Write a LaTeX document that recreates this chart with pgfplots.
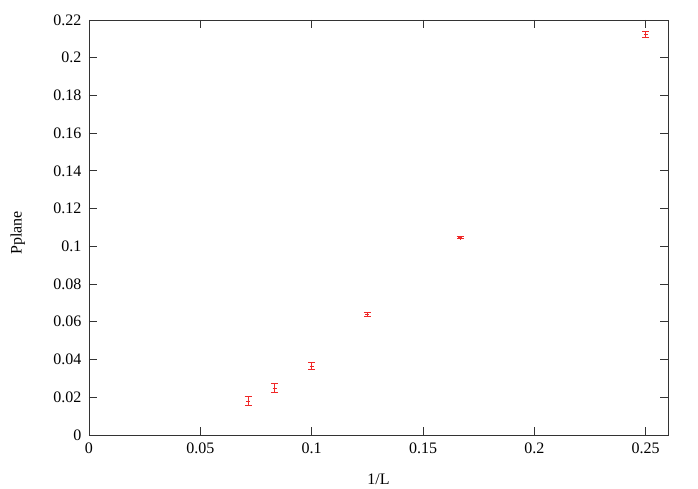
\documentclass[border=0pt]{standalone}
\usepackage{fontspec}
\setmainfont{Liberation Serif}
\usepackage{pgfplots}
\pgfplotsset{compat=1.18}

\definecolor{gpred}{RGB}{240,40,40}

\begin{document}
\begin{tikzpicture}[x=1pt,y=1pt]
\begin{axis}[
    scale only axis,
    width=579pt,
    height=415pt,
    tick label style={font=\fontsize{16}{18}\selectfont},
    label style={font=\fontsize{16}{18}\selectfont},
    xmin=0, xmax=0.26,
    ymin=0, ymax=0.22,
    xtick={0,0.05,0.1,0.15,0.2,0.25},
    ytick={0,0.02,0.04,0.06,0.08,0.1,0.12,0.14,0.16,0.18,0.2,0.22},
    xticklabels={0,0.05,0.1,0.15,0.2,0.25},
    yticklabels={0,0.02,0.04,0.06,0.08,0.1,0.12,0.14,0.16,0.18,0.2,0.22},
    tick align=inside,
    major tick length=8pt,
    axis line style={black!80, line width=0.8pt},
    every tick/.style={black!80, line width=0.8pt},
    xlabel={1/L},
    ylabel={Pplane},
    xlabel style={at={(rel axis cs:0.5,-0.108)}, anchor=center},
    ylabel style={at={(rel axis cs:-0.123,0.487)}, anchor=center},
    xticklabel style={yshift=-4pt},
    yticklabel style={xshift=-4pt},
    clip=false,
]
\addplot[
    only marks, color=gpred, line width=0.8pt,
    mark=+, mark size=2pt,
    error bars/.cd, y dir=both, y explicit,
    error bar style={line width=0.8pt},
    error mark options={rotate=90, mark size=3.5pt, line width=0.8pt},
] coordinates {
    (0.0714286, 0.0180) +- (0, 0.0024)
    (0.0833333, 0.0247) +- (0, 0.0024)
    (0.1, 0.0365) +- (0, 0.0018)
    (0.125, 0.0638) +- (0, 0.0010)
    (0.1666667, 0.1045) +- (0, 0.0005)
    (0.25, 0.2122) +- (0, 0.0015)
};
\path (rel axis cs:-0.1537,-0.1277) rectangle (rel axis cs:1.0518,1.048);
\end{axis}
\end{tikzpicture}
\end{document}
